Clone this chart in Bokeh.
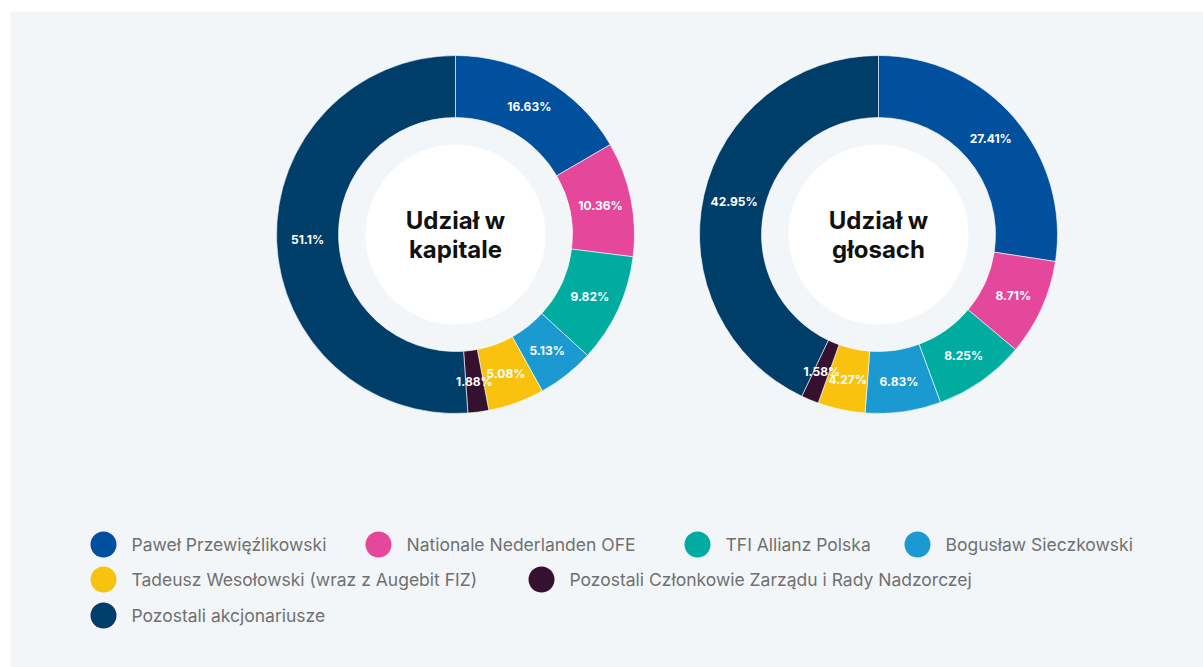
import math
from bokeh.plotting import figure
from bokeh.models import ColumnDataSource, Range1d
from bokeh.core.properties import value
from bokeh.embed import file_html
from bokeh.resources import INLINE

# ---- data ----
categories = [
    "Paweł Przewięźlikowski",
    "Nationale Nederlanden OFE",
    "TFI Allianz Polska",
    "Bogusław Sieczkowski",
    "Tadeusz Wesołowski (wraz z Augebit FIZ)",
    "Pozostali Członkowie Zarządu i Rady Nadzorczej",
    "Pozostali akcjonariusze",
]
capital_share = [16.63, 10.36, 9.82, 5.13, 5.08, 1.88, 51.1]
votes_share = [27.41, 8.71, 8.25, 6.83, 4.27, 1.58, 42.95]
capital_labels = ["16.63%", "10.36%", "9.82%", "5.13%", "5.08%", "1.88%", "51.1%"]
votes_labels = ["27.41%", "8.71%", "8.25%", "6.83%", "4.27%", "1.58%", "42.95%"]
titles = [["Udział w", "kapitale"], ["Udział w", "głosach"]]

# ---- styles ----
colors = ["#00509e", "#e5489b", "#00ab9f", "#1a9ad1", "#f9c20f", "#36112f", "#003e6a"]
BG = "#f3f6f9"
W, H = 1203, 667
FW, FH = 1193, 656

p = figure(width=W, height=H, output_backend="svg", toolbar_location=None,
           x_range=Range1d(0, FW), y_range=Range1d(0, FH),
           x_axis_location=None, y_axis_location=None,
           min_border_left=10, min_border_top=11, min_border_right=0, min_border_bottom=0,
           border_fill_color="white", background_fill_color=BG, outline_line_color=None)
p.grid.visible = False

R_OUT, R_IN, R_WHITE, R_LABEL = 179, 117, 90, 148
centers = [(445, 433), (868, 433)]

for (cx, cy), vals, labs, ttl in zip(centers, [capital_share, votes_share],
                                     [capital_labels, votes_labels], titles):
    total = sum(vals)
    starts, ends, lx, ly = [], [], [], []
    cum = 0.0
    for v in vals:
        a0 = math.pi / 2 - cum / total * 2 * math.pi
        cum += v
        a1 = math.pi / 2 - cum / total * 2 * math.pi
        starts.append(a0)
        ends.append(a1)
        mid = (a0 + a1) / 2
        lx.append(cx + R_LABEL * math.cos(mid))
        ly.append(cy + R_LABEL * math.sin(mid))
    src = ColumnDataSource(dict(start=starts, end=ends, color=colors, lx=lx, ly=ly, lab=labs))
    p.annular_wedge(x=cx, y=cy, inner_radius=R_IN, outer_radius=R_OUT,
                    start_angle="start", end_angle="end", direction="clock",
                    fill_color="color", line_color="white", line_width=0.6, source=src)
    p.circle(x=[cx], y=[cy], radius=R_WHITE, fill_color="white", line_color=None)
    p.text(x="lx", y="ly", text="lab", source=src, text_color="white",
           text_font=value("Inter"), text_font_style="bold", text_font_size="12px",
           text_align="center", text_baseline="middle")
    p.text(x=[cx, cx], y=[cy + 14.5, cy - 14.5], text=ttl, text_color="#111111",
           text_font=value("Inter"), text_font_style="bold", text_font_size="24px",
           text_align="center", text_baseline="middle")

# ---- legend (manual flow layout) ----
legend_rows = [[0, 1, 2, 3], [4, 5], [6]]
legend_row_y = [123, 88, 52]
legend_x = [[93, 368, 687, 907], [93, 531], [93]]
for row, yy, xs in zip(legend_rows, legend_row_y, legend_x):
    p.scatter(x=xs, y=[yy] * len(xs), size=26, marker="circle",
              fill_color=[colors[i] for i in row], line_color=None)
    p.text(x=[x + 28 for x in xs], y=[yy] * len(xs), text=[categories[i] for i in row],
           text_color="#707070", text_font=value("Inter"), text_font_size="17.5px",
           text_align="left", text_baseline="middle")

open("out.html", "w").write(file_html(p, INLINE))
